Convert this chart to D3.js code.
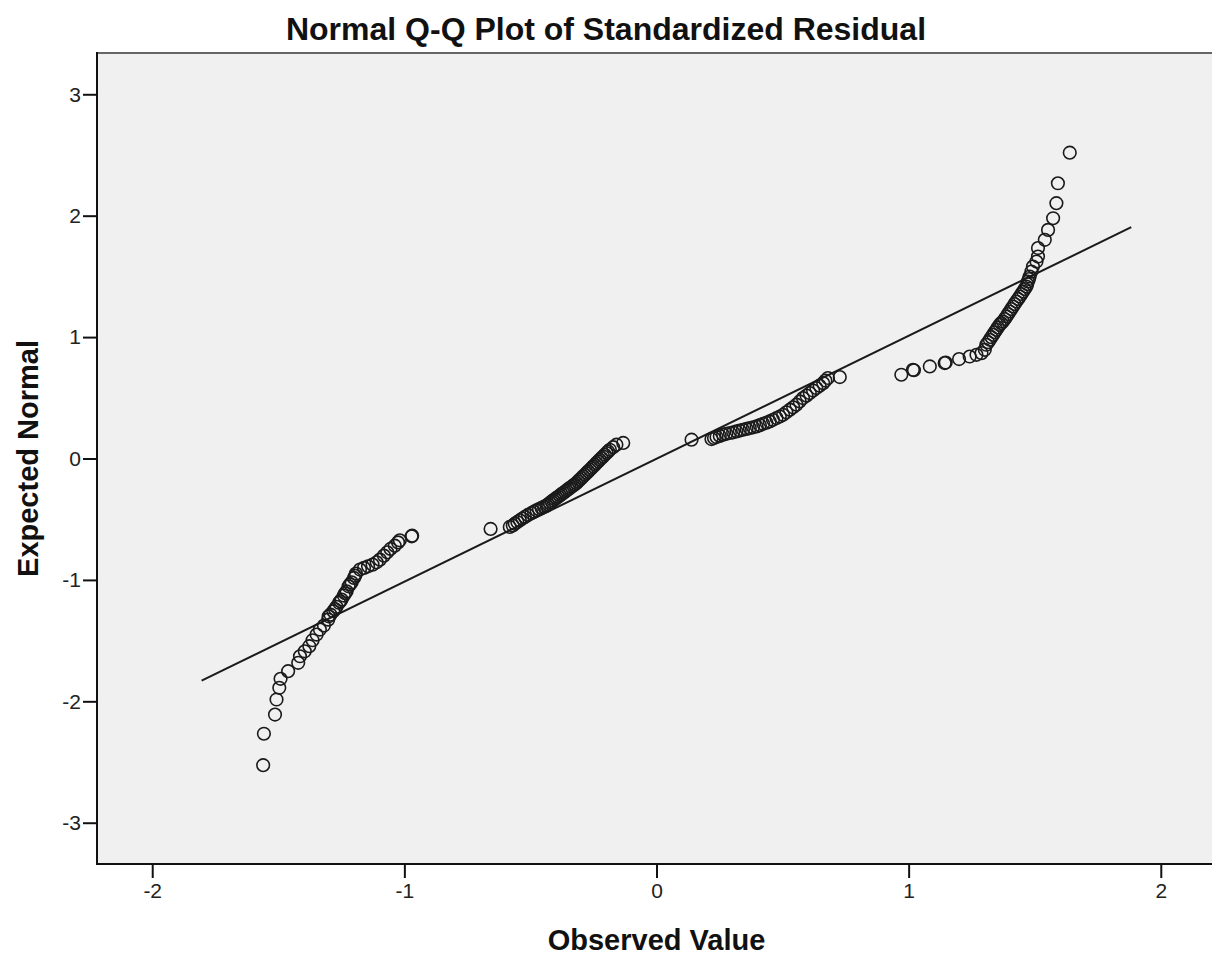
<!DOCTYPE html>
<html>
<head>
<meta charset="utf-8">
<script src="https://cdn.jsdelivr.net/npm/d3@7.8.5/dist/d3.min.js"></script>
<style>
    body { margin: 0; background: #fff; }
    svg { display: block; font-family: "Liberation Sans", Arial, sans-serif; }
    .tick text { fill: #222; }
</style>
</head>
<body>
<div id="chart"></div>
<script>
// Данные: [наблюдаемое, ожидаемое нормальное]
const lowerGroup = [
    [-1.560,-2.526],[-1.557,-2.267],[-1.513,-2.109],[-1.507,-1.985],[-1.496,-1.889],
    [-1.491,-1.815],[-1.461,-1.752],[-1.421,-1.683],[-1.414,-1.629],[-1.395,-1.588],
    [-1.377,-1.546],[-1.364,-1.497],[-1.348,-1.450],[-1.335,-1.409],[-1.319,-1.376],
    [-1.302,-1.327],[-1.300,-1.300],[-1.293,-1.286],[-1.282,-1.258],[-1.275,-1.240],
    [-1.269,-1.222],[-1.259,-1.189],[-1.254,-1.175],[-1.249,-1.162],[-1.240,-1.129],
    [-1.235,-1.110],[-1.229,-1.094],[-1.221,-1.053],[-1.215,-1.035],[-1.209,-1.020],
    [-1.200,-0.984],[-1.195,-0.965],[-1.192,-0.948],[-1.176,-0.915],[-1.160,-0.901],
    [-1.144,-0.888],[-1.126,-0.874],[-1.110,-0.855],[-1.097,-0.833],[-1.081,-0.800],
    [-1.068,-0.773],[-1.055,-0.745],[-1.038,-0.718],[-1.025,-0.691],[-1.018,-0.674],
    [-0.971,-0.641],[-0.969,-0.636]
];
const midLowGroup = [
    [-0.658,-0.580],[-0.582,-0.564],[-0.570,-0.552],[-0.562,-0.537],[-0.552,-0.523],
    [-0.542,-0.509],[-0.532,-0.495],[-0.522,-0.481],[-0.510,-0.465],[-0.496,-0.449],
    [-0.486,-0.438],[-0.476,-0.427],[-0.466,-0.417],[-0.456,-0.407],[-0.446,-0.397],
    [-0.436,-0.388],[-0.430,-0.377],[-0.423,-0.366],[-0.416,-0.356],[-0.410,-0.345],
    [-0.403,-0.335],[-0.397,-0.325],[-0.390,-0.315],[-0.383,-0.304],[-0.377,-0.294],
    [-0.370,-0.284],[-0.363,-0.274],[-0.357,-0.263],[-0.350,-0.253],[-0.344,-0.243],
    [-0.337,-0.233],[-0.330,-0.222],[-0.324,-0.212],[-0.317,-0.202],[-0.311,-0.188],
    [-0.304,-0.174],[-0.297,-0.161],[-0.291,-0.147],[-0.284,-0.133],[-0.277,-0.119],
    [-0.271,-0.106],[-0.264,-0.092],[-0.257,-0.078],[-0.251,-0.064],[-0.244,-0.051],
    [-0.238,-0.037],[-0.231,-0.023],[-0.225,-0.010],[-0.218,0.004],[-0.212,0.017],
    [-0.205,0.031],[-0.198,0.045],[-0.192,0.058],[-0.185,0.072],[-0.172,0.093],
    [-0.159,0.114],[-0.132,0.128]
];
const midHighGroup = [
    [0.139,0.155],[0.218,0.160],[0.228,0.168],[0.238,0.177],[0.251,0.186],
    [0.264,0.196],[0.277,0.203],[0.291,0.210],[0.304,0.216],[0.317,0.223],
    [0.330,0.230],[0.343,0.237],[0.357,0.244],[0.370,0.251],[0.383,0.257],
    [0.397,0.264],[0.410,0.275],[0.423,0.286],[0.436,0.295],[0.449,0.305],
    [0.462,0.319],[0.476,0.333],[0.489,0.346],[0.502,0.360],[0.515,0.381],
    [0.529,0.402],[0.542,0.422],[0.555,0.443],[0.568,0.470],[0.581,0.498],
    [0.595,0.518],[0.608,0.539],[0.621,0.560],[0.634,0.580],[0.647,0.600],
    [0.661,0.621],[0.670,0.642],[0.680,0.663],[0.727,0.671]
];
const upperGroup = [
    [0.971,0.690],[1.017,0.731],[1.021,0.727],[1.084,0.758],[1.143,0.786],
    [1.147,0.790],[1.200,0.819],[1.242,0.840],[1.269,0.854],[1.289,0.868],
    [1.302,0.895],[1.308,0.937],[1.315,0.958],[1.322,0.978],[1.328,0.999],
    [1.335,1.019],[1.341,1.040],[1.348,1.060],[1.354,1.080],[1.361,1.101],
    [1.367,1.115],[1.374,1.128],[1.381,1.149],[1.388,1.170],[1.394,1.190],
    [1.401,1.211],[1.407,1.231],[1.414,1.252],[1.420,1.272],[1.427,1.293],
    [1.434,1.314],[1.441,1.334],[1.447,1.355],[1.454,1.375],[1.460,1.396],
    [1.467,1.416],[1.470,1.437],[1.473,1.458],[1.477,1.478],[1.480,1.499],
    [1.487,1.540],[1.493,1.581],[1.507,1.622],[1.513,1.663],[1.513,1.733],
    [1.540,1.801],[1.553,1.883],[1.573,1.979],[1.586,2.103],[1.592,2.267],
    [1.639,2.519]
];
// Опорная линия
const refLine = [[-1.804,-1.829],[1.883,1.905]];
const xTicks = [-2,-1,0,1,2];
const yTicks = [-3,-2,-1,0,1,2,3];
const titleText = 'Normal Q-Q Plot of Standardized Residual';
const xLabel = 'Observed Value';
const yLabel = 'Expected Normal';

const width = 1212, height = 955;
const plotLeft = 97, plotTop = 53, plotRight = 1216, plotBottom = 864;

const svg = d3.select('#chart').append('svg')
    .attr('width', width)
    .attr('height', height);

const x = d3.scaleLinear().domain([-2.219, 2.219]).range([plotLeft, plotRight]);
const y = d3.scaleLinear().domain([-3.34, 3.34]).range([plotBottom, plotTop]);

// Фон области графика
svg.append('rect')
    .attr('x', plotLeft).attr('y', plotTop)
    .attr('width', plotRight - plotLeft).attr('height', plotBottom - plotTop)
    .attr('fill', '#f0f0f0');

// Рамка
svg.append('line').attr('x1', plotLeft).attr('x2', plotRight).attr('y1', plotTop).attr('y2', plotTop)
    .attr('stroke', '#666').attr('stroke-width', 2);
svg.append('line').attr('x1', plotLeft).attr('x2', plotLeft).attr('y1', plotTop - 1).attr('y2', plotBottom + 1)
    .attr('stroke', '#111').attr('stroke-width', 2);
svg.append('line').attr('x1', plotLeft - 1).attr('x2', plotRight).attr('y1', plotBottom).attr('y2', plotBottom)
    .attr('stroke', '#111').attr('stroke-width', 2);

// Оси (дефис вместо длинного минуса, как в оригинале)
const fmt = d => String(d);
const xAxis = svg.append('g')
    .attr('transform', `translate(0,${plotBottom})`)
    .call(d3.axisBottom(x).tickValues(xTicks).tickSize(14).tickSizeOuter(0).tickFormat(fmt));
const yAxis = svg.append('g')
    .attr('transform', `translate(${plotLeft},0)`)
    .call(d3.axisLeft(y).tickValues(yTicks).tickSize(14).tickSizeOuter(0).tickFormat(fmt));

[xAxis, yAxis].forEach(g => {
    g.select('.domain').remove();
    g.selectAll('.tick line').attr('stroke', '#111').attr('stroke-width', 2);
    g.selectAll('.tick text').attr('font-size', 21).attr('font-family', '"Liberation Sans", Arial, sans-serif');
});
xAxis.selectAll('.tick text').attr('dy', '0.71em').attr('y', 19);
yAxis.selectAll('.tick text').attr('x', -16);

// Линия
svg.append('path')
    .datum(refLine)
    .attr('d', d3.line().x(d => x(d[0])).y(d => y(d[1])))
    .attr('stroke', '#1a1a1a')
    .attr('stroke-width', 2)
    .attr('fill', 'none');

// Точки
const points = [].concat(lowerGroup, midLowGroup, midHighGroup, upperGroup);
svg.append('g').selectAll('circle')
    .data(points)
    .join('circle')
    .attr('cx', d => x(d[0]))
    .attr('cy', d => y(d[1]))
    .attr('r', 6.3)
    .attr('fill', 'none')
    .attr('stroke', '#1a1a1a')
    .attr('stroke-width', 1.6);

// Подписи
svg.append('text')
    .attr('x', 606).attr('y', 40)
    .attr('text-anchor', 'middle')
    .attr('font-size', 32).attr('font-weight', 'bold')
    .attr('fill', '#111')
    .text(titleText);

svg.append('text')
    .attr('x', (plotLeft + plotRight) / 2).attr('y', 950)
    .attr('text-anchor', 'middle')
    .attr('font-size', 29).attr('font-weight', 'bold')
    .attr('fill', '#111')
    .text(xLabel);

svg.append('text')
    .attr('transform', `translate(38,${(plotTop + plotBottom) / 2}) rotate(-90)`)
    .attr('text-anchor', 'middle')
    .attr('font-size', 29).attr('font-weight', 'bold')
    .attr('fill', '#111')
    .text(yLabel);
</script>
</body>
</html>
